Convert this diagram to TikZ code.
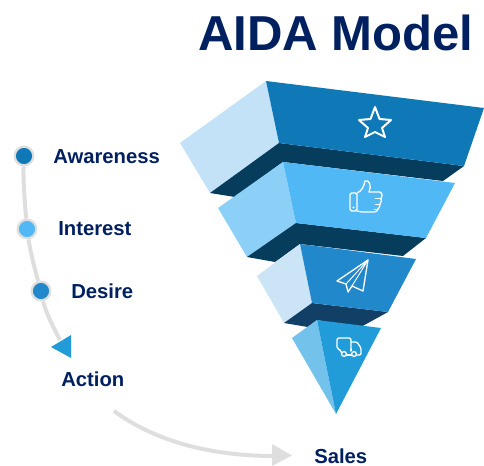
\documentclass[tikz,border=0pt]{standalone}
\usepackage{fontspec}
\setmainfont{Liberation Sans}
\definecolor{navy}{HTML}{002060}
\definecolor{tierA}{HTML}{0F79B7}
\definecolor{tierB}{HTML}{4FB8F5}
\definecolor{tierC}{HTML}{2188CB}
\definecolor{tierD}{HTML}{229CD9}
\definecolor{sideA}{HTML}{C3E2F7}
\definecolor{sideB}{HTML}{8DD0F7}
\definecolor{sideC}{HTML}{CBE5F7}
\definecolor{sideD}{HTML}{72C2EB}
\definecolor{band}{HTML}{073D5C}
\definecolor{bandC}{HTML}{123F66}
\definecolor{track}{HTML}{DEDEDE}
\tikzset{
 x=0.75pt,y=-0.75pt,
 label text/.style={font=\bfseries\fontsize{15.2}{17}\selectfont,text=navy,inner sep=0pt},
 icon/.style={draw=white,line width=1pt,line join=round,line cap=round},
 dot/.style={circle,draw=track,line width=1.7pt,minimum size=14pt,inner sep=0pt},
 track line/.style={draw=track,line width=3pt},
}
\begin{document}
\begin{tikzpicture}
\useasboundingbox (0,0) rectangle (484,466);
% title
\node[font=\bfseries\fontsize{36.8}{40}\selectfont,text=navy,inner sep=0pt] (title) at (336,33) {AIDA Model};
% funnel
\fill[sideA] (266,81)--(279,143)--(210,193)--(180,143)--cycle;
\fill[band] (279,143)--(464,166)--(443,181)--(283,162)--(235,197)--(210,193)--cycle;
\fill[tierA] (266,81)--(484,108)--(464,166)--(279,143)--cycle;
\fill[sideB] (283,162)--(296,223)--(247,257)--(218,208)--cycle;
\fill[band] (296,223)--(426,238)--(403,256)--(300,244)--(275,262)--(247,257)--cycle;
\fill[tierB] (283,162)--(455,183)--(426,238)--(296,223)--cycle;
\fill[sideC] (300,244)--(312,303)--(284,323)--(257,276)--cycle;
\fill[bandC] (312,303)--(388,312)--(359,328)--(317,320)--(308,327)--(284,323)--cycle;
\fill[tierC] (300,244)--(416,259)--(388,312)--(312,303)--cycle;
\fill[sideD] (317,320)--(336,414)--(292,338)--cycle;
\fill[tierD] (317,320)--(381,328)--(336,414)--cycle;
% star
\draw[icon,line width=1.5pt] (375,107)--(379.5,119)--(391,120)--(382,128)--(385,137)--(375,132)--(365,137)--(368,128)--(359,120)--(370.5,119)--cycle;
% thumb
\draw[icon,rounded corners=1.2] (357,193)--(350,193)--(350,211)--(357,211)--cycle;
\fill[white] (353.5,207.5) circle (1.2);
\draw[icon] (357,193) .. controls (362,191) and (364,186) .. (365,181) .. controls (369,179) and (372,186) .. (369,192) -- (380,192) .. controls (382.5,193) and (382.5,197) .. (381,198) .. controls (382,200) and (381,203) .. (380,204) .. controls (380,207) and (379,208) .. (378,209) .. controls (378,211) and (376,212) .. (374,212) -- (362,212) -- (357,211);
\draw[icon,line width=.7pt] (381,198)--(375,198) (380,204)--(375,204) (378,209)--(374,209);
% plane
\draw[icon] (368,260)--(337,281)--(346,284)--(348,292)--(352,286)--(363,291)--cycle;
\draw[icon,line width=.7pt] (368,260)--(346,284) (368,260)--(352,286);
% truck
\draw[icon,rounded corners=1.5] (351,349)--(351,338)--(337,338)--(337,349)--(340,350);
\draw[icon] (340,350)--(341.5,352.5);
\draw[icon,rounded corners=1] (351,342)--(357,342)--(361,348)--(361,355)--(356.5,355);
\draw[icon] (346.5,355)--(351.5,355);
\draw[icon] (351,349)--(351,351);
\draw[icon] (344,354) circle (2.4);
\draw[icon] (354,354) circle (2.4);
% timeline
\node[dot,fill=tierA] (aw) at (24,156) {};
\node[dot,fill=tierB] (in) at (27,229) {};
\node[dot,fill=tierC] (de) at (41,291) {};
\coordinate (tip) at (60,340);
\draw[track line] (aw) .. controls (23,180) and (25,205) .. (in);
\draw[track line] (in) .. controls (30,250) and (35,270) .. (de);
\draw[track line] (de) .. controls (45,310) and (52,325) .. (tip);
\fill[tierD] (51,347)--(71,335)--(71,358)--cycle;
\node[label text,anchor=west] (l1) at (53,157) {Awareness};
\node[label text,anchor=west] (l2) at (58,228.5) {Interest};
\node[label text,anchor=west] (l3) at (71,291) {Desire};
\node[label text,anchor=west] (l4) at (61,379) {Action};
\node[label text,anchor=west] (l5) at (314,456) {Sales};
% sales arrow
\coordinate (s0) at (114,411);
\coordinate (s1) at (274,456);
\draw[track line] (s0) .. controls (160,445) and (220,456) .. (s1);
\fill[track] (272,444)--(292,455.5)--(272,466)--cycle;
\end{tikzpicture}
\end{document}
